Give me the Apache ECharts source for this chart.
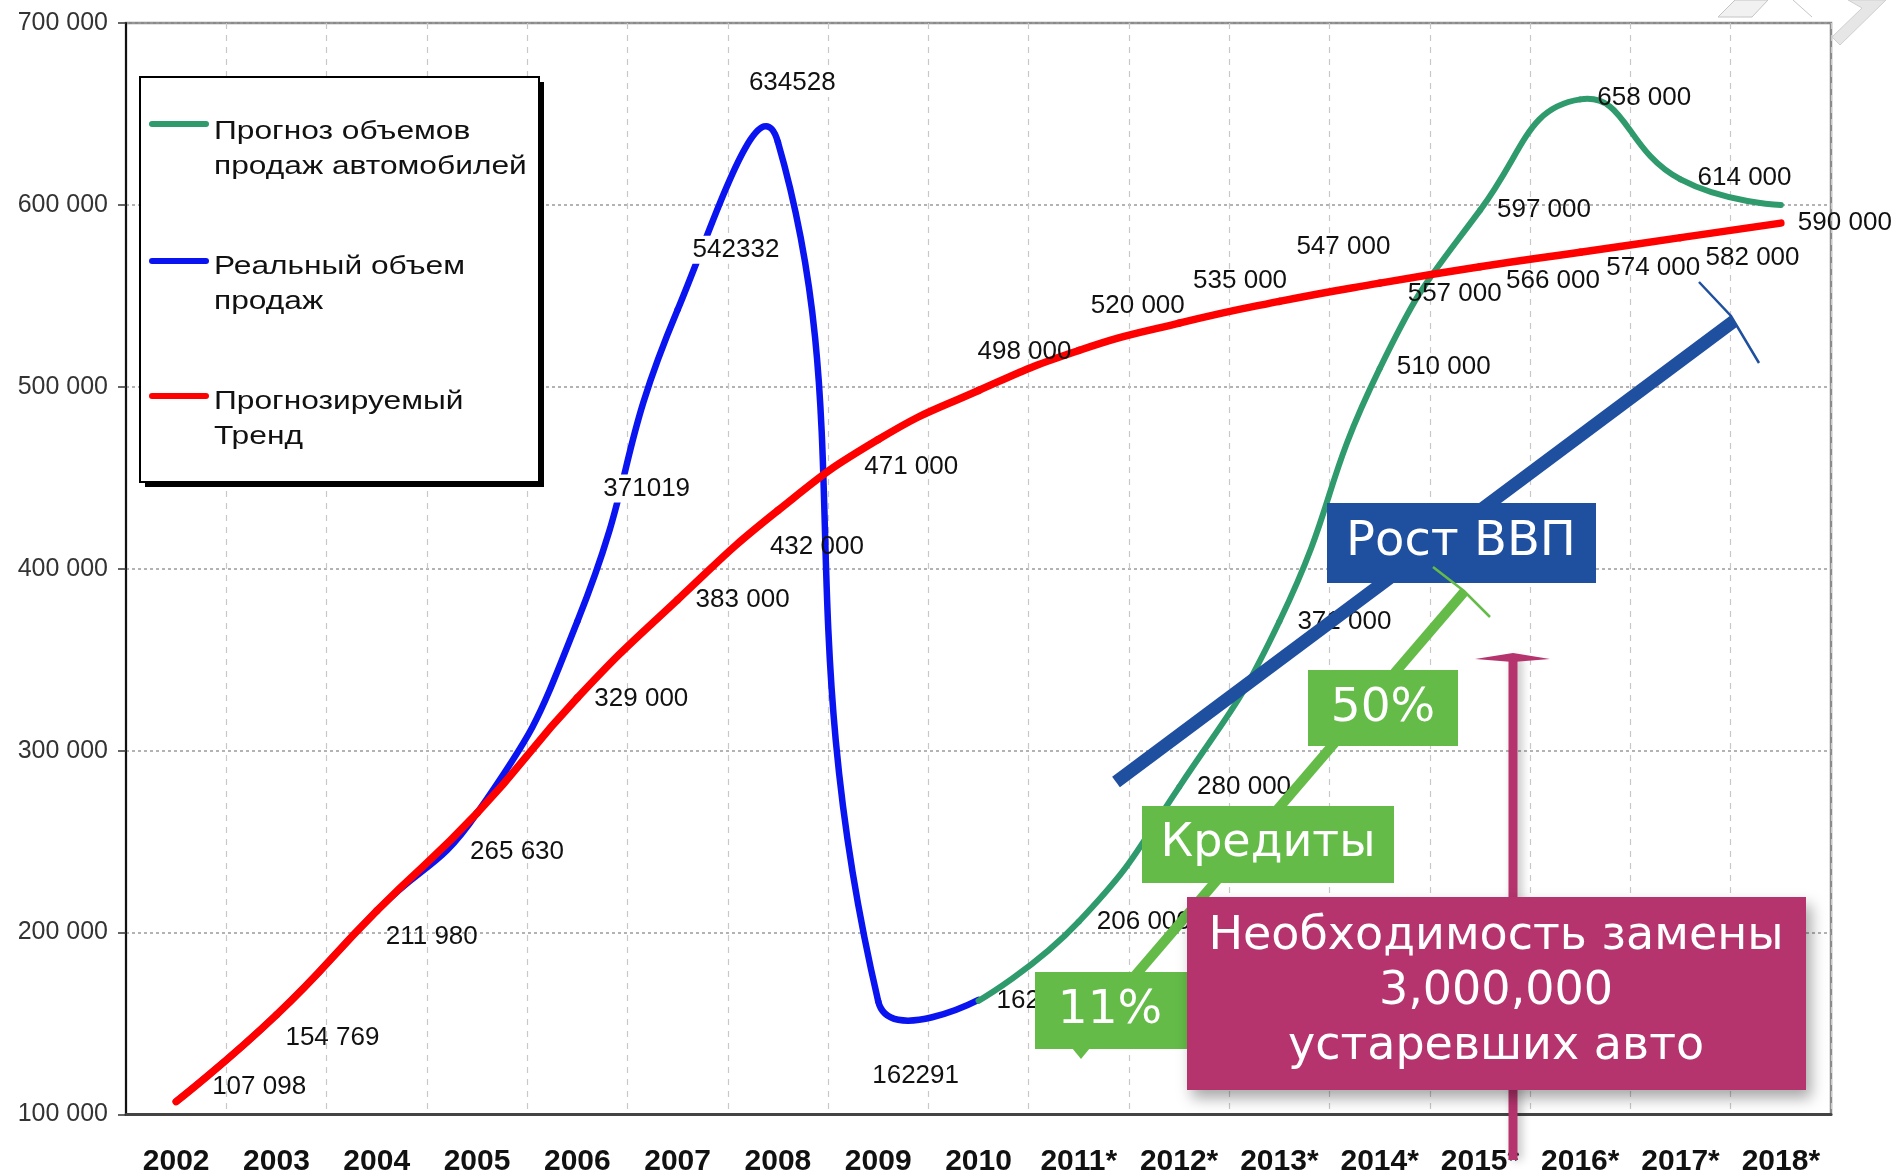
<!DOCTYPE html>
<html>
<head>
<meta charset="utf-8">
<script src="https://cdn.jsdelivr.net/npm/echarts@6/dist/echarts.min.js"></script>
<style>
  html, body { margin: 0; padding: 0; background: #fff; }
  #chart { width: 1901px; height: 1175px; }
</style>
</head>
<body>
<div id="chart"></div>
<script>
// categories
const years = ['2002', '2003', '2004', '2005', '2006', '2007', '2008', '2009', '2010',
  '2011*', '2012*', '2013*', '2014*', '2015*', '2016*', '2017*', '2018*']

// series values
const forecastSales = ['-', '-', '-', '-', '-', '-', '-', '-', 162500,
  206000, 280000, 371000, 510000, 597000, 658000, 614000, 600000]
const realSales = [107098, 154769, 211980, 265630, 371019, 542332, 634528, 162291, 163000,
  '-', '-', '-', '-', '-', '-', '-', '-']
const trendSales = [107098, 154769, 211980, 265630, 329000, 383000, 432000, 471000, 498000,
  520000, 535000, 547000, 557000, 566000, 574000, 582000, 590000]

// y axis ticks
const yTicks = [100000, 200000, 300000, 400000, 500000, 600000, 700000]

const seriesNames = ['Прогноз объемов\nпродаж автомобилей', 'Реальный объем\nпродаж', 'Прогнозируемый\nТренд']
const colors = ['#2f9a6b', '#0a14f0', '#ff0000']

// label placement (px offsets from the point), null = no label
const trendOffsets = [[36, -15], [9, 23], [9, 26], [-7, 39], [17, 1], [18, 0], [-8, 36], [-14, 27], [-1, -39],
  [12, -45], [14, -42], [17, -55], [28, 11], [26, 14], [26, 16], [25, 20], [17, 0]]
const realOffsets = [null, null, null, null, [24, -133], [13, -60], [-31, -59], [-8, 75], null]
const forecastOffsets = [null, null, null, null, null, null, null, null, [18, 0],
  [18, 0], [18, 0], [18, 0], [17, -2], [17, -1], [17, -2], [17, -2], null]

const spaced = v => String(v).replace(/\B(?=(\d{3})+(?!\d))/g, ' ')

// excel-like smoothing (echarts formula, without the min/max clamp)
const SMOOTH = 0.5
const controlPoints = (prev, cur, next) => {
  if (!prev || !next) return { cin: cur, cout: cur }
  const vx = next[0] - prev[0]
  const vy = next[1] - prev[1]
  const l0 = Math.hypot(cur[0] - prev[0], cur[1] - prev[1])
  const l1 = Math.hypot(next[0] - cur[0], next[1] - cur[1])
  const r = l1 / (l0 + l1)
  return {
    cin: [cur[0] - vx * SMOOTH * (1 - r), cur[1] - vy * SMOOTH * (1 - r)],
    cout: [cur[0] + vx * SMOOTH * r, cur[1] + vy * SMOOTH * r]
  }
}

const curveSeries = (name, values, color, width, offsets, fmt, z, labelExtra) => ({
  type: 'custom',
  name,
  coordinateSystem: 'cartesian2d',
  clip: false,
  silent: true,
  z,
  encode: { x: 0, y: 1 },
  data: values.map((v, i) => [i, v]).filter(d => d[1] !== '-'),
  renderItem: (params, api) => {
    const i = api.value(0)
    const at = k => (k < 0 || k >= values.length || values[k] === '-') ? null : api.coord([k, values[k]])
    const p0 = at(i - 1)
    const p1 = at(i)
    const p2 = at(i + 1)
    const p3 = at(i + 2)
    const children = []
    if (p2) {
      const a = controlPoints(p0, p1, p2).cout
      const b = controlPoints(p1, p2, p3).cin
      children.push({
        type: 'bezierCurve',
        shape: { x1: p1[0], y1: p1[1], cpx1: a[0], cpy1: a[1], cpx2: b[0], cpy2: b[1], x2: p2[0], y2: p2[1] },
        style: { stroke: color, lineWidth: width, fill: 'none', lineCap: 'round' }
      })
    }
    const off = offsets[i]
    if (off) {
      children.push({
        type: 'text',
        z2: 10,
        x: p1[0] + off[0],
        y: p1[1] + off[1],
        style: {
          text: fmt(values[i]),
          font: '26px "Liberation Sans"',
          fill: '#111',
          align: 'left',
          verticalAlign: 'middle',
          ...labelExtra
        }
      })
    }
    return { type: 'group', children }
  }
})

const chart = echarts.init(document.getElementById('chart'))

const boxText = (text, x, y, size) => ({
  type: 'text', x, y, z: 120,
  style: { text, font: `${size}px "DejaVu Sans"`, fill: '#fff', align: 'center', verticalAlign: 'middle' }
})

chart.setOption({
  animation: false,
  backgroundColor: '#fff',
  grid: {
    left: 126,
    right: 70,
    top: 23,
    bottom: 60.5,
    show: true,
    borderColor: '#8a8a8a',
    borderWidth: 2.5,
    outerBoundsMode: 'none'
  },
  xAxis: {
    type: 'category',
    data: years,
    boundaryGap: true,
    axisLine: { lineStyle: { color: '#444', width: 3 } },
    axisTick: { length: 10, lineStyle: { color: '#333', width: 2 } },
    axisLabel: {
      interval: 0,
      margin: 32,
      fontFamily: 'Liberation Sans',
      fontWeight: 'bold',
      fontSize: 30,
      color: '#111'
    },
    splitLine: { show: true, interval: 0, lineStyle: { color: '#c8c8c8', type: [6, 6], width: 1.2 } }
  },
  yAxis: {
    type: 'value',
    min: yTicks[0],
    max: yTicks[yTicks.length - 1],
    interval: yTicks[1] - yTicks[0],
    axisLine: { show: true, lineStyle: { color: '#111', width: 2 } },
    axisTick: { show: true, length: 8, lineStyle: { color: '#333', width: 1.5 } },
    axisLabel: {
      margin: 18,
      fontFamily: 'Liberation Sans',
      fontSize: 25,
      color: '#333',
      formatter: v => spaced(v)
    },
    splitLine: { lineStyle: { color: '#9a9a9a', type: [3, 3], width: 1.5 } }
  },
  series: [
    curveSeries(seriesNames[1], realSales, colors[1], 6.5, realOffsets, v => String(v), 2,
      { backgroundColor: '#fff', padding: [1, 2] }),
    curveSeries(seriesNames[0], forecastSales, colors[0], 6, forecastOffsets, spaced, 3, {}),
    curveSeries(seriesNames[2], trendSales, colors[2], 7.5, trendOffsets, spaced, 4, {})
  ],
  graphic: [
    // slide decoration, top right
    { type: 'polygon', z: 1, shape: { points: [[1718, 17], [1735, 0], [1768, 0], [1752, 17]] }, style: { fill: '#f1f1f1', stroke: '#c4c4c4', lineWidth: 1 } },
    { type: 'polyline', z: 1, shape: { points: [[1793, 0], [1812, 17]] }, style: { stroke: '#c4c4c4', lineWidth: 1 } },
    { type: 'polygon', z: 1, shape: { points: [[1848, 0], [1886, 0], [1840, 45], [1832, 37], [1862, 8]] }, style: { fill: '#e6e6e6', stroke: '#cfcfcf', lineWidth: 1 } },

    // legend
    { type: 'rect', z: 100, shape: { x: 145, y: 82, width: 399, height: 405 }, style: { fill: '#000' } },
    { type: 'rect', z: 101, shape: { x: 140, y: 77, width: 399, height: 405 }, style: { fill: '#fff', stroke: '#000', lineWidth: 2 } },
    ...[124, 261, 396].map((y, i) => ({
      type: 'line', z: 102, shape: { x1: 152, y1: y, x2: 206, y2: y },
      style: { stroke: colors[i], lineWidth: 6, lineCap: 'round' }
    })),
    ...[114, 249, 384].map((y, i) => ({
      type: 'text', z: 102, x: 214, y, scaleX: 1.22,
      style: { text: seriesNames[i], font: '26px "Liberation Sans"', fill: '#111', lineHeight: 35, verticalAlign: 'top' }
    })),

    // GDP arrow
    { type: 'line', z: 110, shape: { x1: 1116, y1: 782, x2: 1734, y2: 321 }, style: { stroke: '#1f4f9f', lineWidth: 13 } },
    { type: 'polyline', z: 110, shape: { points: [[1699, 282], [1731, 316], [1759, 363]] }, style: { stroke: '#1f4f9f', lineWidth: 2.5 } },
    { type: 'rect', z: 111, shape: { x: 1327, y: 503, width: 269, height: 80 }, style: { fill: '#1f4f9f' } },
    { ...boxText('Рост ВВП', 1461, 543, 48), z: 112 },

    // credit arrow
    { type: 'line', z: 113, shape: { x1: 1109, y1: 1006, x2: 1464, y2: 592 }, style: { stroke: '#64bb47', lineWidth: 10 } },
    { type: 'polyline', z: 113, shape: { points: [[1433, 567], [1464, 591], [1490, 617]] }, style: { stroke: '#64bb47', lineWidth: 2.5 } },
    { type: 'rect', z: 114, shape: { x: 1308, y: 670, width: 150, height: 76 }, style: { fill: '#64bb47' } },
    { ...boxText('50%', 1383, 709, 47), z: 115 },
    { type: 'rect', z: 114, shape: { x: 1142, y: 806, width: 252, height: 77 }, style: { fill: '#64bb47' } },
    { ...boxText('Кредиты', 1268, 844, 46), z: 115 },
    { type: 'rect', z: 114, shape: { x: 1035, y: 972, width: 152, height: 77 }, style: { fill: '#64bb47' } },
    { type: 'polygon', z: 114, shape: { points: [[1072, 1048], [1090, 1048], [1081, 1059]] }, style: { fill: '#64bb47' } },
    { ...boxText('11%', 1110, 1011, 47), z: 115 },

    // replacement arrow
    { type: 'line', z: 116, shape: { x1: 1513, y1: 1160, x2: 1513, y2: 657 }, style: { stroke: '#b5346e', lineWidth: 9, shadowBlur: 10, shadowColor: 'rgba(0,0,0,0.25)', shadowOffsetX: 4 } },
    { type: 'polygon', z: 116, shape: { points: [[1475, 659], [1513, 653], [1550, 659], [1513, 662]] }, style: { fill: '#b5346e' } },
    { type: 'rect', z: 117, shape: { x: 1187, y: 897, width: 619, height: 193 }, style: { fill: '#b5346e', shadowBlur: 14, shadowColor: 'rgba(0,0,0,0.35)', shadowOffsetX: 5, shadowOffsetY: 8 } },
    { ...boxText('Необходимость замены', 1496, 937, 46), z: 118 },
    { ...boxText('3,000,000', 1496, 992, 46), z: 118 },
    { ...boxText('устаревших авто', 1496, 1047, 46), z: 118 }
  ]
})

window.addEventListener('resize', () => chart.resize())
</script>
</body>
</html>
